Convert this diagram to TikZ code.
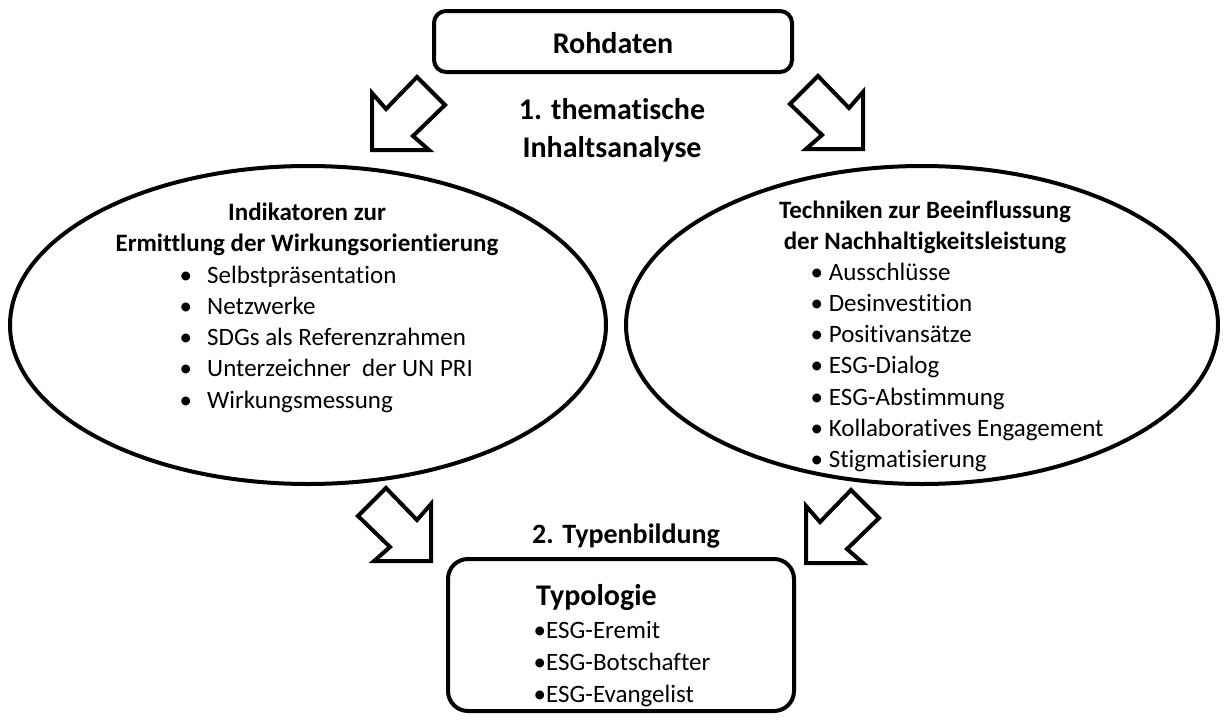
\documentclass[tikz,border=0pt]{standalone}
\usepackage{fontspec}
\setmainfont{Carlito}[Ligatures=NoCommon]
\usetikzlibrary{shapes.geometric}
\begin{document}
\begin{tikzpicture}[x=1pt,y=-1pt,
  box/.style={draw, line width=4pt, inner sep=0pt},
  oval/.style={draw, ellipse, line width=4pt, inner sep=0pt},
  body/.style={font=\fontsize{25}{30}\selectfont, inner sep=0pt, anchor=base west},
  head/.style={font=\bfseries\fontsize{25}{30}\selectfont, inner sep=0pt, anchor=base},
  big/.style={font=\bfseries\fontsize{30}{38}\selectfont, inner sep=0pt, anchor=base},
  blockarrow/.pic={\draw[line width=4pt, line join=miter] (0,0) -- (0,-57) -- (14,-41) -- (45,-73) -- (73,-45) -- (41,-14) -- (57,0) -- cycle;}
]
\useasboundingbox (0,0) rectangle (1224,720);

% boxes
\node[box, rounded corners=12pt, minimum width=358pt, minimum height=61pt] (roh) at (613,41.5) {};
\node[big] (rohtxt) at (613,53) {Rohdaten};
\node[box, rounded corners=20pt, minimum width=346pt, minimum height=152pt] (typ) at (621,635) {};

% ellipses
\node[oval, minimum width=596pt, minimum height=318pt] (left) at (308,325) {};
\node[oval, minimum width=592pt, minimum height=318pt] (right) at (922,325) {};

% step labels
\node[big] (s1a) at (612,119) {1. thematische};
\node[big] (s1b) at (612,157) {Inhaltsanalyse};
\node[big, font=\bfseries\fontsize{28}{32}\selectfont] (s2) at (626,543) {2. Typenbildung};

% block arrows
\pic (a1) at (372,150) {blockarrow};
\pic[xscale=-1] (a2) at (863,149) {blockarrow};
\pic[xscale=-1] (a3) at (431,561) {blockarrow};
\pic (a4) at (806,563) {blockarrow};

% left ellipse text
\node[head] (lt1) at (307,220) {Indikatoren zur};
\node[head] (lt2) at (307,251) {Ermittlung der Wirkungsorientierung};
\foreach \t [count=\i from 0] in {Selbstpräsentation,Netzwerke,SDGs als Referenzrahmen,Unterzeichner\ \ der UN PRI,Wirkungsmessung}{
  \node[body] (lb\i) at (179.5,283+31.3*\i) {•};
  \node[body] (li\i) at (207,283+31.3*\i) {\t};
}

% right ellipse text
\node[head] (rt1) at (925,218) {Techniken zur Beeinflussung};
\node[head] (rt2) at (925,249) {der Nachhaltigkeitsleistung};
\foreach \t [count=\i from 0] in {Ausschlüsse,Desinvestition,Positivansätze,ESG-Dialog,ESG-Abstimmung,Kollaboratives Engagement,Stigmatisierung}{
  \node[body] (ri\i) at (810.5,280+31.3*\i) {• \t};
}

% typology text
\node[big, anchor=base west] (tt) at (536,605) {Typologie};
\node[body] (t1) at (533.5,638) {•ESG-Eremit};
\node[body] (t2) at (533.5,670) {•ESG-Botschafter};
\node[body] (t3) at (533.5,702) {•ESG-Evangelist};
\end{tikzpicture}
\end{document}
